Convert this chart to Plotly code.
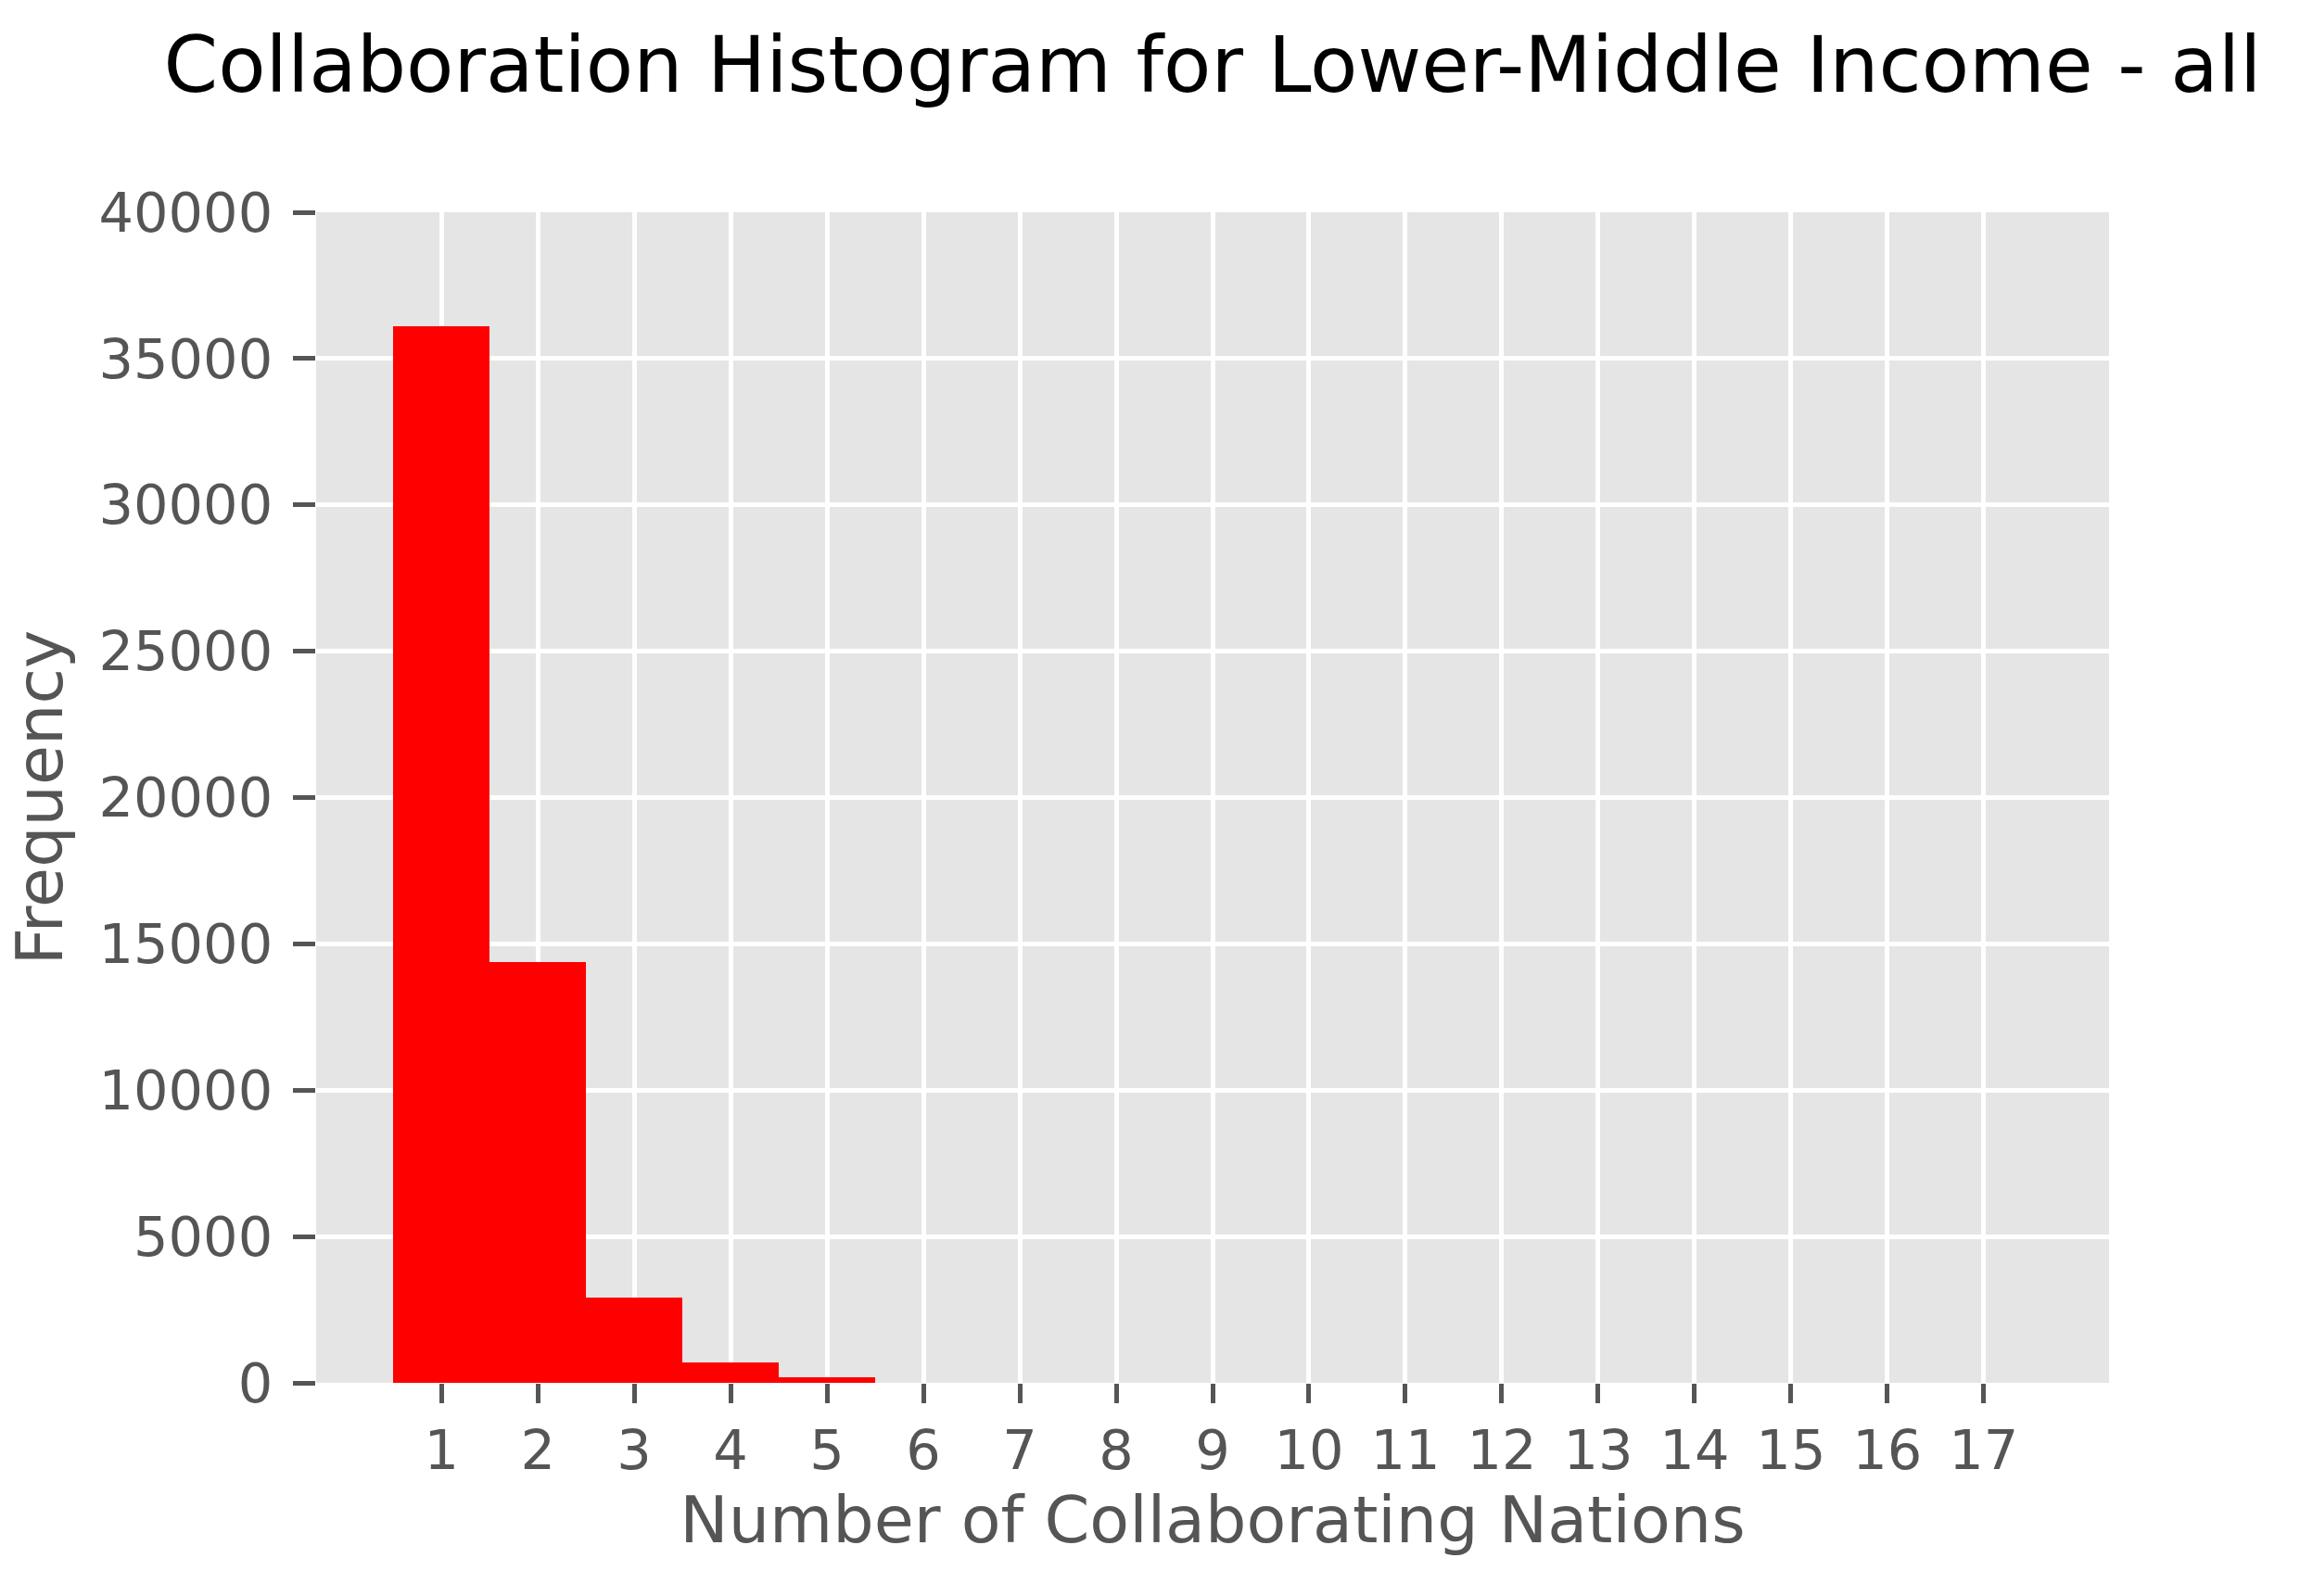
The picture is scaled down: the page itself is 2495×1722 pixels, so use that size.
import plotly.graph_objects as go

# Data
nations = list(range(1, 18))
frequency = [36090, 14370, 2910, 700, 200, 0, 0, 0, 0, 0, 0, 0, 0, 0, 0, 0, 0]
tick_vals = list(range(1, 18))
y_ticks = [0, 5000, 10000, 15000, 20000, 25000, 30000, 35000, 40000]

FONT = "DejaVu Sans"
GREY = "#555555"

fig = go.Figure()
fig.add_trace(go.Bar(
    x=nations, y=frequency, width=1.0,
    marker=dict(color="#FF0000", line=dict(width=0)),
    showlegend=False,
))

L, R, T, B = 341, 220, 229, 230
W, H = 2495, 1722

fig.update_layout(
    width=W, height=H,
    margin=dict(l=L, r=R, t=T, b=B, pad=0),
    paper_bgcolor="white",
    plot_bgcolor="#E5E5E5",
    bargap=0,
    title=dict(
        text="Collaboration Histogram for Lower-Middle Income - all",
        font=dict(family=FONT, size=84, color="black"),
        x=(L + (W - R)) / 2 / W, xanchor="center",
        y=1 - 70 / H, yanchor="middle", yref="container",
    ),
    font=dict(family=FONT),
)

fig.update_xaxes(
    range=[-0.3, 18.3],
    tickmode="array", tickvals=tick_vals, ticktext=[str(v) for v in tick_vals],
    showgrid=True, gridcolor="white", gridwidth=5,
    zeroline=False, showline=False, automargin=False,
    ticks="outside", ticklen=21, tickwidth=5, tickcolor=GREY,
    tickfont=dict(family=FONT, size=59, color=GREY),
    ticklabelstandoff=0,
    title=dict(text="Number of Collaborating Nations",
               font=dict(family=FONT, size=70, color=GREY), standoff=12),
)
fig.update_yaxes(
    range=[0, 40000],
    tickmode="array", tickvals=y_ticks, ticktext=[str(v) for v in y_ticks],
    showgrid=True, gridcolor="white", gridwidth=5,
    zeroline=False, showline=False, automargin=False,
    ticks="outside", ticklen=24, tickwidth=5, tickcolor=GREY,
    tickfont=dict(family=FONT, size=59, color=GREY),
    ticklabelstandoff=10,
    title=dict(text="Frequency",
               font=dict(family=FONT, size=70, color=GREY), standoff=15),
)

fig.write_html(
    "out.html",
    config={"displayModeBar": False},
    post_script="document.body.style.margin='0';document.body.style.padding='0';",
)
